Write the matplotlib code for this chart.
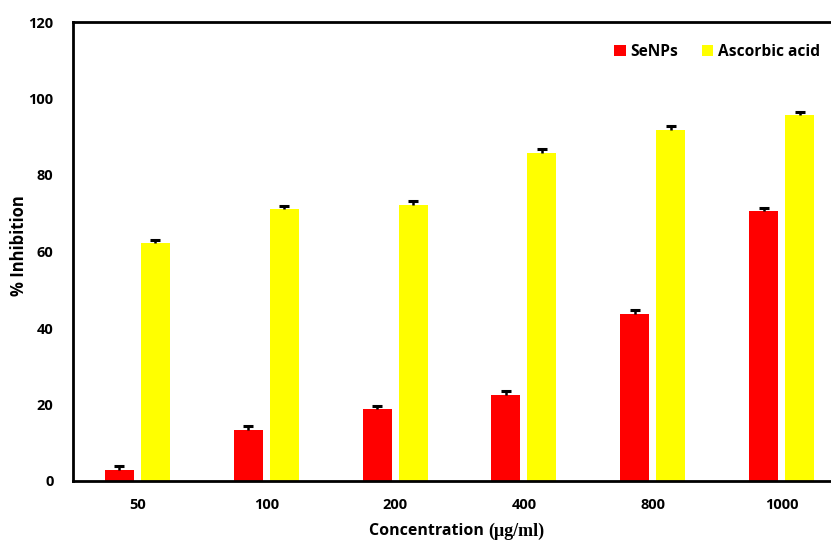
import matplotlib.pyplot as plt
import numpy as np

concentrations = ['50', '100', '200', '400', '800', '1000']
senps = [2.9, 13.3, 18.7, 22.5, 43.6, 70.6]
senps_err = [1.0, 1.0, 1.0, 0.9, 1.0, 0.9]
ascorbic = [62.2, 71.1, 72.2, 85.8, 91.8, 95.7]
ascorbic_err = [0.9, 0.9, 1.0, 0.9, 1.0, 0.9]

sans = ['Open Sans', 'DejaVu Sans']
serif = ['Liberation Serif', 'DejaVu Serif']

fig = plt.figure(figsize=(8.31, 5.41), dpi=100)
ax = fig.add_axes([73/831, 60/541, 773/831, 459/541])

x = np.arange(len(concentrations))
w = 0.225
off = 0.14
ax.bar(x - off, senps, w, color='#ff0000', label='SeNPs', zorder=2)
ax.bar(x + off, ascorbic, w, color='#ffff00', label='Ascorbic acid', zorder=2)

# upper-only error bars
for xs, vals, errs in [(x - off, senps, senps_err), (x + off, ascorbic, ascorbic_err)]:
    eb = ax.errorbar(xs, vals, yerr=[np.zeros(len(errs)), errs], fmt='none',
                     ecolor='black', elinewidth=1.8, capsize=3.5, capthick=2.2, zorder=3)
    eb.lines[1][0].set_visible(False)

ax.set_xlim(-0.5, 5.5)
ax.set_ylim(0, 120)
ax.set_yticks(range(0, 121, 20))
ax.set_xticks(x)
ax.set_xticklabels(concentrations)
ax.tick_params(length=0, pad=12)
for lab in ax.get_xticklabels() + ax.get_yticklabels():
    lab.set_family(sans)
    lab.set_fontweight('bold')
    lab.set_fontsize(10.5)
ax.tick_params(axis='y', pad=14)
for s in ax.spines.values():
    s.set_linewidth(2)

fig.text(19/831, 1 - 246/541, '% Inhibition', rotation=90, ha='center', va='center',
         family=sans, fontweight='bold', fontsize=12)
fig.text(488/831, 1 - 531/541, 'Concentration ', ha='right', va='center',
         family=sans, fontweight='bold', fontsize=11.5)
fig.text(488/831, 1 - 531/541, '(μg/ml)', ha='left', va='center',
         family=serif, fontweight='bold', fontsize=13)

ax.legend(loc='upper right', bbox_to_anchor=(834/831, 1 - 30/541),
          bbox_transform=fig.transFigure, ncol=2, frameon=False,
          handlelength=0.75, handleheight=0.75, handletextpad=0.3, columnspacing=1.5,
          prop={'family': sans, 'weight': 'bold', 'size': 11.2})

fig.savefig('out.png', dpi=100)
